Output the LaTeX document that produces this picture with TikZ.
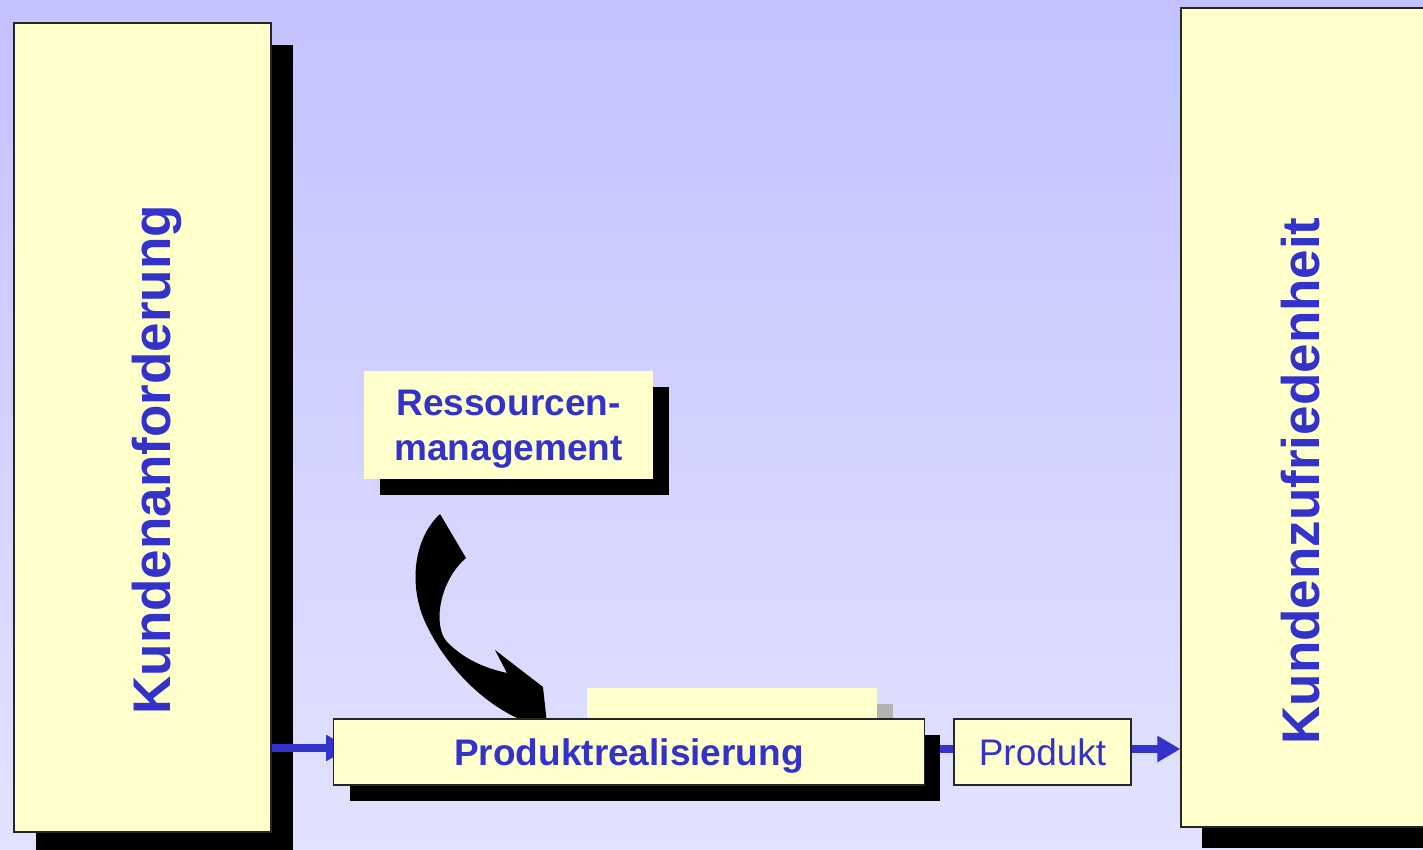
\documentclass[tikz,border=0pt]{standalone}
\usepackage{fontspec}
\setmainfont{Liberation Sans}
\usetikzlibrary{arrows.meta,shadows}
\definecolor{paper}{HTML}{FFFFCC}
\definecolor{ink}{HTML}{3333CC}
\definecolor{skytop}{RGB}{194,194,255}
\definecolor{skybot}{RGB}{226,226,255}
\definecolor{greyshade}{HTML}{B2B2B2}
\pgfdeclarelayer{sky}
\pgfdeclarelayer{bg}
\pgfdeclarelayer{mid}
\pgfsetlayers{sky,bg,mid,main}
\tikzset{
  card/.style={rectangle, fill=paper, draw=black!85, line width=1.3pt, inner sep=0pt},
  plaincard/.style={rectangle, fill=paper, draw=none, inner sep=0pt},
  shade/.style={drop shadow={shadow xshift=#1, shadow yshift=-#1, fill=black, opacity=1}},
  bigtext/.style={text=ink, font=\fontsize{53}{60}\selectfont\bfseries},
  midtext/.style={text=ink, font=\fontsize{37}{45}\selectfont\bfseries},
  flow/.style={draw=ink, line width=7.5pt},
  flowarrow/.style={flow, -{Triangle[length=23pt,width=25pt]}},
}
\begin{document}
\begin{tikzpicture}[x=1pt, y=-1pt]
  \useasboundingbox (0,0) rectangle (1423,849);
  \clip (0,0) rectangle (1423,849);
  \begin{pgfonlayer}{sky}
    \fill[top color=skytop, bottom color=skybot] (0,0) rectangle (1423,849);
  \end{pgfonlayer}

  \begin{pgfonlayer}{bg}
    % customer requirement column
    \node[card, shade=22pt, minimum width=257pt, minimum height=809pt]
      (req) at (142.5,427.5) {};
    \node[bigtext, rotate=90, anchor=base] (reqtext) at (170,459.8) {Kundenanforderung};
    % customer satisfaction column
    \node[card, shade=21pt, minimum width=244pt, minimum height=819pt]
      (sat) at (1303,417.5) {};
    \node[bigtext, rotate=90, anchor=base] (sattext) at (1319,480.9) {Kundenzufriedenheit};
    % resource management
    \node[plaincard, shade=16pt, minimum width=289pt, minimum height=108pt,
      midtext, align=center, text depth=-4pt]
      (res) at (508.5,425) {Ressourcen-\\management};
  \end{pgfonlayer}

  \begin{pgfonlayer}{mid}
    % curved block arrow from resource management down to the process
    \fill[black] (440,514) -- (466,558)
      .. controls (440,580) and (432,625) .. (447,642)
      .. controls (465,660) and (485,668) .. (507,673)
      -- (495,650) -- (543,687) -- (547,724) -- (532,724)
      .. controls (490,710) and (450,672) .. (428,628)
      .. controls (408,590) and (412,540) .. (440,514) -- cycle;
    % card behind the process box
    \node[plaincard, minimum width=290pt, minimum height=60pt,
      drop shadow={shadow xshift=16pt, shadow yshift=-16pt, fill=greyshade, opacity=1}]
      (back) at (732,718) {};
  \end{pgfonlayer}

  % process and product
  \node[card, shade=16pt, minimum width=590.5pt, minimum height=66pt, midtext]
    (proc) at (629,752) {\raisebox{0pt}[26.5pt][0pt]{Produktrealisierung}};
  \node[card, line width=1.8pt, minimum width=176.5pt, minimum height=66pt,
    text=ink, font=\fontsize{37}{43}\selectfont]
    (prod) at (1042.5,752) {\raisebox{0pt}[26.5pt][0pt]{Produkt}};

  \begin{pgfonlayer}{mid}
    \draw[flowarrow, shorten >=-16pt] (req.east |- 0,748) -- (proc.west |- 0,748);
    \draw[flow] (proc.east |- 0,749) -- (prod.west |- 0,749);
    \draw[flowarrow] (prod.east |- 0,749) -- (sat.west |- 0,749);
  \end{pgfonlayer}
\end{tikzpicture}
\end{document}
